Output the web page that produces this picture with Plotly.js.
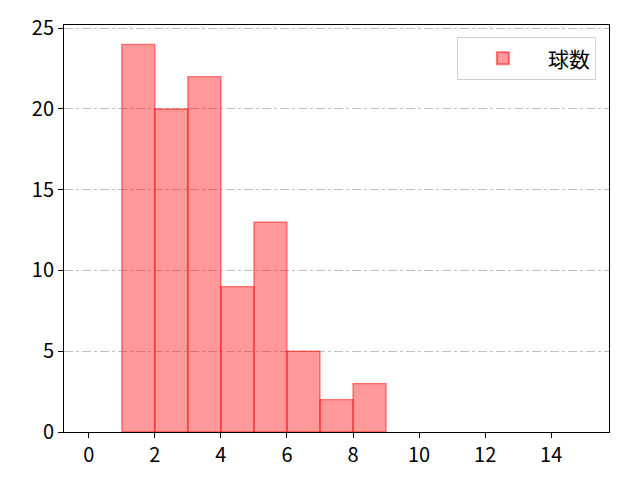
<!DOCTYPE html>
<html>
<head>
<meta charset="utf-8">
<script src="https://cdn.plot.ly/plotly-3.0.1.min.js"></script>
<style>body{margin:0;} #chart{width:640px;height:480px;}</style>
</head>
<body>
<div id="chart"></div>
<script>
// histogram bins (left edges) and counts
const binStart = [1, 2, 3, 4, 5, 6, 7, 8];
const binWidth = 1;
const counts = [24, 20, 22, 9, 13, 5, 2, 3];
const seriesName = "球数";
const xTicks = [0, 2, 4, 6, 8, 10, 12, 14];
const yTicks = [0, 5, 10, 15, 20, 25];

let centers = binStart.map(b => b + binWidth / 2);

let trace = {
  type: "bar",
  x: centers,
  y: counts,
  width: binWidth,
  name: seriesName,
  showlegend: true,
  marker: {
    color: "rgba(255,0,0,0.4)",
    line: {color: "rgba(255,0,0,0.5)", width: 1.3}
  }
};

let font = {family: "Noto Sans CJK JP, DejaVu Sans, sans-serif", size: 20, color: "#000"};

let layout = {
  width: 640, height: 480,
  margin: {l: 64, r: 31, t: 25, b: 48},
  paper_bgcolor: "#fff",
  plot_bgcolor: "#fff",
  font: font,
  bargap: 0,
  xaxis: {
    range: [-0.75, 15.75],
    tickvals: xTicks,
    ticks: "outside", ticklen: 5, tickcolor: "#000",
    showgrid: false, zeroline: false,
    showline: true, mirror: true, linecolor: "#000", linewidth: 1
  },
  yaxis: {
    range: [0, 25.2],
    tickvals: yTicks,
    ticks: "outside", ticklen: 5, tickcolor: "#000",
    showgrid: true, gridcolor: "#b0b0b0", gridwidth: 0.8, griddash: "dashdot",
    zeroline: false,
    showline: true, mirror: true, linecolor: "#000", linewidth: 1
  },
  legend: {
    x: 0.976, y: 0.97, xanchor: "right", yanchor: "top",
    bgcolor: "rgba(255,255,255,0.8)", bordercolor: "#d0d0d0", borderwidth: 1,
    itemwidth: 80, itemsizing: "constant",
    font: {family: "Noto Sans CJK JP, sans-serif", size: 21, color: "#000"}
  }
};

Plotly.newPlot("chart", [trace], layout, {displayModeBar: false, staticPlot: true});
</script>
</body>
</html>
